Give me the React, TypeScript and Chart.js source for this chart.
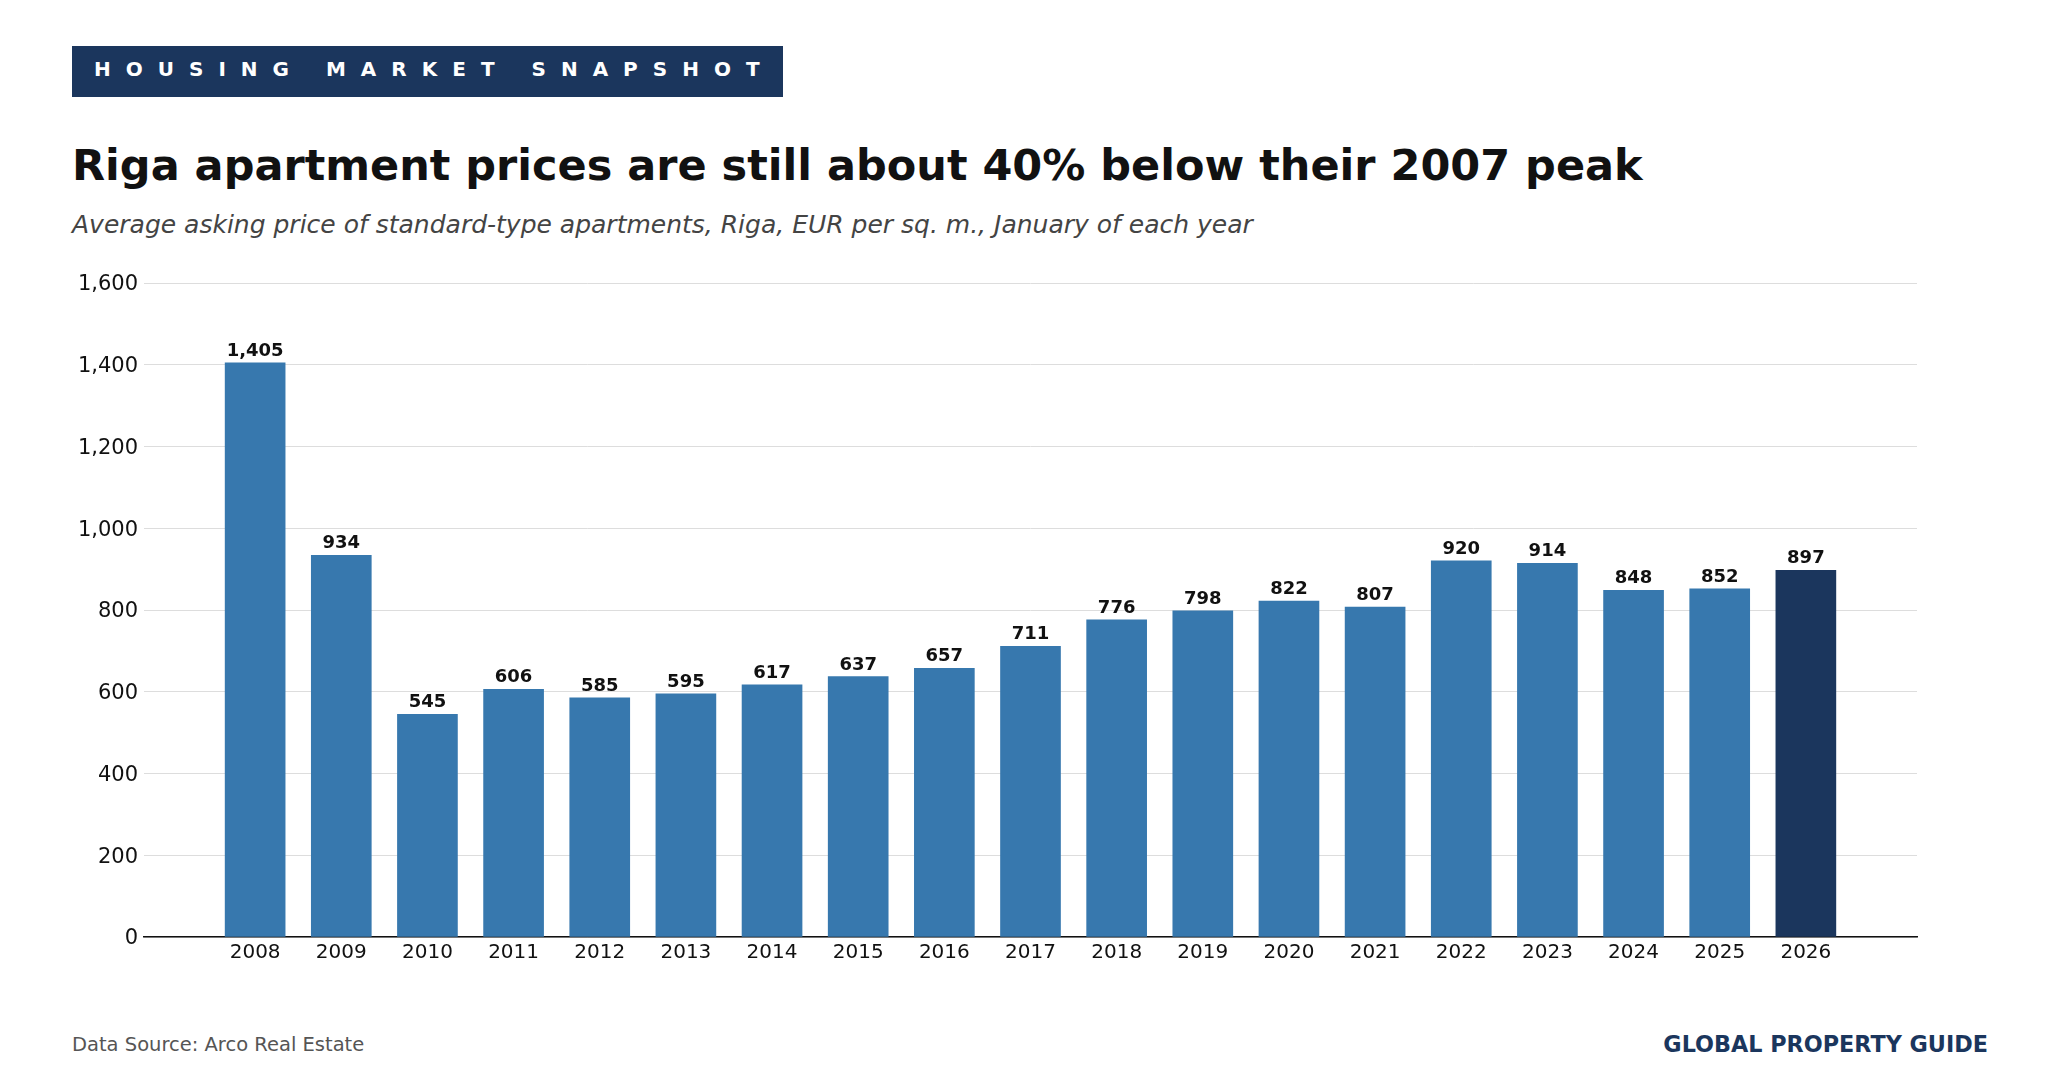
import React, { useEffect, useRef } from "react";
import { Chart, registerables } from "chart.js";

Chart.register(...registerables);

// Data
const years: number[] = [2008, 2009, 2010, 2011, 2012, 2013, 2014, 2015, 2016, 2017, 2018, 2019, 2020, 2021, 2022, 2023, 2024, 2025, 2026];
const prices: number[] = [1405, 934, 545, 606, 585, 595, 617, 637, 657, 711, 776, 798, 822, 807, 920, 914, 848, 852, 897];
const yTicks: number[] = [0, 200, 400, 600, 800, 1000, 1200, 1400, 1600];

const FONT = "'DejaVu Sans', sans-serif";
const BAR_COLOR = "#3778ae";
const LATEST_COLOR = "#1b365d";
const NAVY = "#1b365d";

const valueLabels = {
  id: "valueLabels",
  afterDatasetsDraw(chart: any) {
    const ctx = chart.ctx;
    const meta = chart.getDatasetMeta(0);
    ctx.save();
    ctx.font = `bold 18px ${FONT}`;
    ctx.fillStyle = "#111111";
    ctx.textAlign = "center";
    ctx.textBaseline = "alphabetic";
    meta.data.forEach((bar: any, i: number) => {
      ctx.fillText(prices[i].toLocaleString("en-US"), bar.x, bar.y - 7);
    });
    ctx.restore();
  },
};

function PriceChart() {
  const ref = useRef<HTMLCanvasElement | null>(null);

  useEffect(() => {
    if (!ref.current) return;
    const chart = new Chart(ref.current, {
      type: "bar",
      data: {
        datasets: [
          {
            data: years.map((y, i) => ({ x: y, y: prices[i] })),
            backgroundColor: years.map((_, i) => (i === years.length - 1 ? LATEST_COLOR : BAR_COLOR)),
            barThickness: 60,
            borderWidth: 0,
          },
        ],
      },
      options: {
        animation: false,
        responsive: false,
        maintainAspectRatio: false,
        layout: { padding: { top: 33, right: 43, bottom: 33, left: 0 } },
        plugins: {
          legend: { display: false },
          tooltip: { enabled: false },
        },
        scales: {
          x: {
            type: "linear",
            min: years[0] - 1.29,
            max: years[years.length - 1] + 1.29,
            offset: false,
            afterBuildTicks: (axis: any) => {
              axis.ticks = years.map((v) => ({ value: v }));
            },
            afterFit: (axis: any) => {
              axis.height = 40;
            },
            grid: { display: false, drawTicks: false },
            border: { display: true, color: "#111111", width: 1.5 },
            ticks: {
              autoSkip: false,
              maxRotation: 0,
              padding: 4,
              color: "#111111",
              font: { family: FONT, size: 20 },
              callback: (v: any) => String(v),
            },
          },
          y: {
            min: 0,
            max: 1600,
            afterBuildTicks: (axis: any) => {
              axis.ticks = yTicks.map((v) => ({ value: v }));
            },
            afterFit: (axis: any) => {
              axis.width = 84;
            },
            grid: { color: "#dddddd", lineWidth: 1, drawTicks: false },
            border: { display: false },
            ticks: {
              padding: 6,
              labelOffset: 2,
              color: "#111111",
              font: { family: FONT, size: 21 },
              callback: (v: any) => Number(v).toLocaleString("en-US"),
            },
          },
        },
      },
      plugins: [valueLabels],
    });
    return () => chart.destroy();
  }, []);

  return (
    <canvas
      ref={ref}
      width={1900}
      height={760}
      style={{ position: "absolute", left: 60, top: 250, width: 1900, height: 760 }}
    />
  );
}

export default function App() {
  return (
    <div
      style={{
        position: "absolute",
        left: 0,
        top: 0,
        width: 2060,
        height: 1090,
        background: "#ffffff",
        fontFamily: FONT,
        overflow: "hidden",
      }}
    >
      <div
        style={{
          position: "absolute",
          left: 72,
          top: 46,
          width: 711,
          height: 51,
          background: NAVY,
          color: "#ffffff",
          fontWeight: "bold",
          fontSize: 20,
          letterSpacing: 15,
          lineHeight: "47px",
          paddingLeft: 22,
          boxSizing: "border-box",
          whiteSpace: "nowrap",
        }}
      >
        HOUSING MARKET SNAPSHOT
      </div>
      <div
        style={{
          position: "absolute",
          left: 72,
          top: 140,
          fontWeight: "bold",
          fontSize: 43,
          color: "#111111",
          whiteSpace: "nowrap",
          lineHeight: "50px",
        }}
      >
        Riga apartment prices are still about 40% below their 2007 peak
      </div>
      <div
        style={{
          position: "absolute",
          left: 72,
          top: 210,
          fontStyle: "italic",
          fontSize: 25,
          color: "#444444",
          whiteSpace: "nowrap",
          lineHeight: "30px",
        }}
      >
        Average asking price of standard-type apartments, Riga, EUR per sq. m., January of each year
      </div>
      <PriceChart />
      <div
        style={{
          position: "absolute",
          left: 72,
          top: 1033,
          fontSize: 19.5,
          color: "#555555",
          whiteSpace: "nowrap",
          lineHeight: "24px",
        }}
      >
        Data Source: Arco Real Estate
      </div>
      <div
        style={{
          position: "absolute",
          right: 2060 - 1988,
          top: 1031,
          fontSize: 22.3,
          fontWeight: "bold",
          color: NAVY,
          whiteSpace: "nowrap",
          lineHeight: "26px",
        }}
      >
        GLOBAL PROPERTY GUIDE
      </div>
    </div>
  );
}
